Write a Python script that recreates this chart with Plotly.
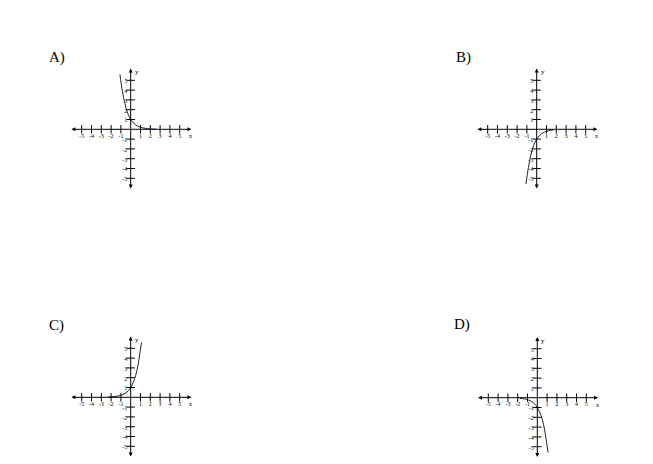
import plotly.graph_objects as go

W, H = 653, 464
PAGE_OFFSET = 8  # default body margin of the html page

# Panel labels
panel_labels = ["A)", "B)", "C)", "D)"]

# Curve points (x, y in graph units)
a_x = [-1.1, -0.85, -0.6, -0.4, -0.2, 0.0, 0.25, 0.5, 0.8, 1.2, 1.7, 2.2, 2.6]
a_y = [5.6, 3.9, 2.65, 1.9, 1.38, 1.0, 0.67, 0.45, 0.28, 0.15, 0.07, 0.03, 0.02]

b_x = [-1.1, -0.85, -0.6, -0.4, -0.2, 0.0, 0.25, 0.5, 0.8, 1.2, 1.7]
b_y = [-5.6, -3.9, -2.65, -1.9, -1.38, -1.0, -0.67, -0.45, -0.28, -0.15, -0.07]

c_x = [-2.3, -1.8, -1.3, -0.9, -0.5, -0.25, 0.0, 0.25, 0.5, 0.75, 0.95, 1.1]
c_y = [0.03, 0.06, 0.13, 0.24, 0.45, 0.67, 1.0, 1.5, 2.2, 3.3, 4.6, 5.6]

d_x = [-1.8, -1.3, -0.9, -0.5, -0.25, 0.0, 0.25, 0.5, 0.75, 0.95, 1.1]
d_y = [-0.06, -0.13, -0.24, -0.45, -0.67, -1.0, -1.5, -2.2, -3.3, -4.6, -5.6]

curves_x = [a_x, b_x, c_x, d_x]
curves_y = [a_y, b_y, c_y, d_y]

# Ticks and tick labels
tick_vals = [-5, -4, -3, -2, -1, 1, 2, 3, 4, 5]
tick_text = ["-5", "-4", "-3", "-2", "-1", "1", "2", "3", "4", "5"]
axis_min, axis_max = -6.2, 6.2

# Panel origins (pixel, in page coords) and pixel per unit
origins = [(130.7, 129.3), (536.7, 129.3), (130.7, 397.3), (537.3, 397.7)]
label_pos = [(57, 57), (463, 57), (56, 325), (462, 324)]
unit = 9.8

fig = go.Figure()
FONT = "Liberation Serif"


def fx(px):
    return (px - PAGE_OFFSET) / W


def fy(py):
    return 1 - (py - PAGE_OFFSET) / H


for i in range(4):
    ox, oy = origins[i]
    half = (axis_max - axis_min) / 2 * unit
    xd = [fx(ox - half), fx(ox + half)]
    yd = [fy(oy + half), fy(oy - half)]
    n = "" if i == 0 else str(i + 1)
    xa, ya = "x" + n, "y" + n
    fig.update_layout(**{
        "xaxis" + n: dict(domain=xd, range=[axis_min, axis_max], visible=False, fixedrange=True),
        "yaxis" + n: dict(domain=yd, range=[axis_min, axis_max], visible=False, fixedrange=True),
    })
    # tick marks
    fig.add_trace(go.Scatter(x=tick_vals, y=[0] * len(tick_vals), mode="markers",
                             marker=dict(symbol="line-ns", size=6, line=dict(width=1, color="black")),
                             xaxis=xa, yaxis=ya, hoverinfo="skip", showlegend=False))
    fig.add_trace(go.Scatter(x=[0] * len(tick_vals), y=tick_vals, mode="markers",
                             marker=dict(symbol="line-ew", size=6, line=dict(width=1, color="black")),
                             xaxis=xa, yaxis=ya, hoverinfo="skip", showlegend=False))
    # tick labels
    fig.add_trace(go.Scatter(x=tick_vals, y=[-0.7] * len(tick_vals), mode="text", text=tick_text,
                             textfont=dict(family=FONT, size=6, color="black"),
                             xaxis=xa, yaxis=ya, hoverinfo="skip", showlegend=False))
    fig.add_trace(go.Scatter(x=[-0.35] * len(tick_vals), y=[v - 0.15 for v in tick_vals],
                             mode="text", text=tick_text, textposition="middle left",
                             textfont=dict(family=FONT, size=6, color="black"),
                             xaxis=xa, yaxis=ya, hoverinfo="skip", showlegend=False))
    # curve
    fig.add_trace(go.Scatter(x=curves_x[i], y=curves_y[i], mode="lines",
                             line=dict(color="#222222", width=1, shape="spline"),
                             xaxis=xa, yaxis=ya, hoverinfo="skip", showlegend=False))
    # axes with arrows
    fig.add_annotation(x=axis_max, y=0, ax=axis_min, ay=0, xref=xa, yref=ya, axref=xa, ayref=ya,
                       showarrow=True, arrowhead=2, arrowside="end+start", arrowsize=0.8,
                       arrowwidth=1, arrowcolor="black", text="")
    fig.add_annotation(x=0, y=axis_max, ax=0, ay=axis_min, xref=xa, yref=ya, axref=xa, ayref=ya,
                       showarrow=True, arrowhead=2, arrowside="end+start", arrowsize=0.8,
                       arrowwidth=1, arrowcolor="black", text="")
    # axis names
    fig.add_annotation(x=6.1, y=-0.7, xref=xa, yref=ya, text="x", showarrow=False,
                       font=dict(family=FONT, size=6, color="black"))
    fig.add_annotation(x=0.6, y=5.8, xref=xa, yref=ya, text="y", showarrow=False,
                       font=dict(family=FONT, size=7, color="black"))
    # panel label
    lx, ly = label_pos[i]
    fig.add_annotation(x=fx(lx), y=fy(ly), xref="paper", yref="paper", text=panel_labels[i],
                       xanchor="center", yanchor="middle", showarrow=False,
                       font=dict(family=FONT, size=15, color="black"))

fig.update_layout(width=W, height=H, margin=dict(l=0, r=0, t=0, b=0),
                  paper_bgcolor="white", plot_bgcolor="white", showlegend=False)
fig.write_html("out.html")
